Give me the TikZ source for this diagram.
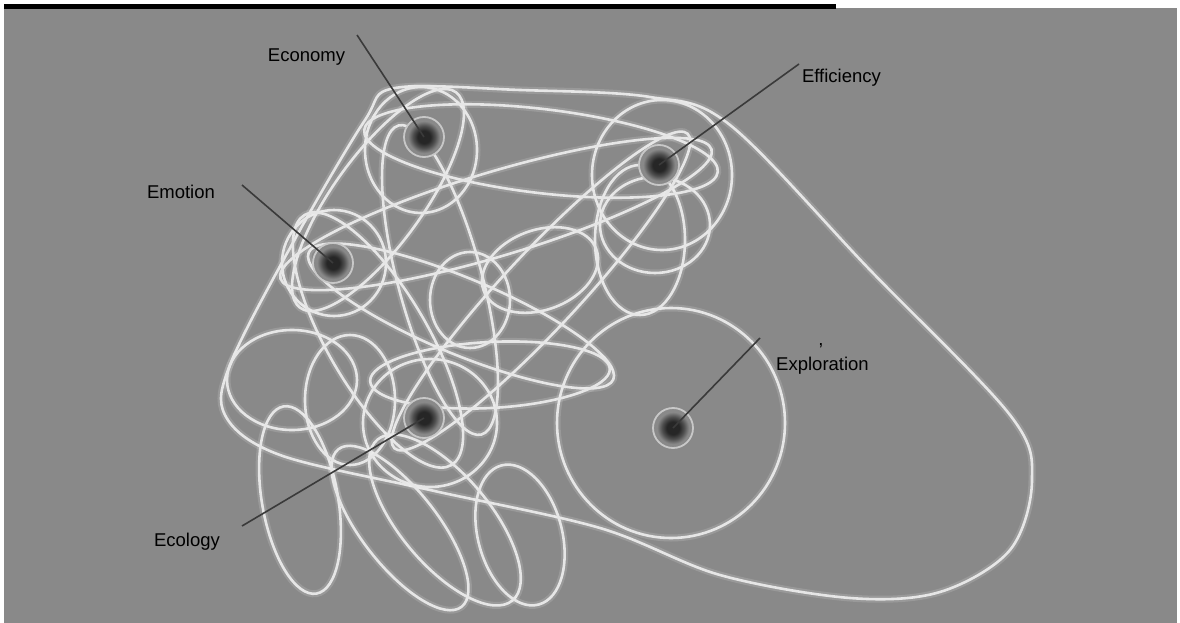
\documentclass[tikz,border=0pt]{standalone}
\usepackage{fontspec}
\setmainfont{Liberation Sans}
\definecolor{bg}{RGB}{137,137,137}
\definecolor{loopc}{RGB}{230,230,230}
\definecolor{leadc}{RGB}{58,58,58}
\definecolor{dotc}{RGB}{38,38,38}
\definecolor{dotm}{RGB}{80,80,80}
\definecolor{ringc}{RGB}{200,200,200}
\pgfdeclareradialshading{dotshade}{\pgfpoint{0bp}{0bp}}{color(0bp)=(dotc); color(8bp)=(dotc); color(14bp)=(dotm); color(20bp)=(bg); color(25bp)=(bg); color(50bp)=(bg)}
\tikzset{
  loopline/.style={draw=loopc, line width=2.6},
  halo/.style={draw=white, opacity=.14, line width=7},
  dot/.style={circle, minimum size=40, inner sep=0, shading=dotshade, draw=ringc, line width=1.8},
  lbl/.style={font=\fontsize{18.5}{22}\selectfont, text=black, inner sep=0, anchor=base},
  leader/.style={draw=leadc, line width=1.6},
}
\newcommand\lp[5]{%
  \draw[halo, rotate around={#5:(#1,#2)}] (#1,#2) ellipse [x radius=#3, y radius=#4];
  \draw[loopline, rotate around={#5:(#1,#2)}] (#1,#2) ellipse [x radius=#3, y radius=#4];
}
\begin{document}
\begin{tikzpicture}[x=1pt,y=-1pt]
\useasboundingbox (0,0) rectangle (1180,623);
\fill[white] (0,0) rectangle (1180,623);
\fill[bg] (4,8) rectangle (1177,623);
\fill[black] (4,4) rectangle (836,9);

% big outer loop
\draw[halo] plot[smooth cycle, tension=0.55] coordinates {(395,88) (520,90) (650,97) (730,125) (870,270) (1010,415) (1032,480) (1010,550) (940,592) (850,598) (720,575) (600,528) (430,490) (280,455) (225,415) (232,360) (300,230) (365,120)};
\draw[loopline] plot[smooth cycle, tension=0.55] coordinates {(395,88) (520,90) (650,97) (730,125) (870,270) (1010,415) (1032,480) (1010,550) (940,592) (850,598) (720,575) (600,528) (430,490) (280,455) (225,415) (232,360) (300,230) (365,120)};

% circles around the dots
\lp{421}{150}{56}{63}{0}
\lp{662}{175}{70}{75}{0}
\lp{334}{263}{52}{53}{0}
\lp{430}{423}{67}{64}{0}
\lp{671}{423}{114}{115}{0}
\lp{655}{225}{55}{48}{0}
\lp{640}{240}{45}{75}{0}
% loops joining pairs
\lp{378}{200}{133}{45}{54.2}
\lp{378}{340}{145}{50}{-59.6}
\lp{541}{151}{178}{42}{-6.8}
\lp{496}{214}{225}{42}{16.7}
\lp{541}{291}{215}{38}{47}
\lp{461}{316}{165}{38}{-22.6}
\lp{490}{375}{120}{33}{3}
\lp{440}{280}{160}{42}{-75}
% tangle at lower left
\lp{292}{380}{65}{50}{0}
\lp{300}{500}{38}{95}{10}
\lp{400}{528}{100}{38}{-52}
\lp{445}{520}{105}{45}{-50}
\lp{520}{535}{42}{72}{15}
\lp{350}{400}{45}{65}{0}
\lp{470}{300}{40}{48}{0}
\lp{540}{270}{60}{40}{20}

% dots
\node[dot] (eco) at (424,137) {};
\node[dot] (eff) at (659,165) {};
\node[dot] (emo) at (333,263) {};
\node[dot] (ecl) at (424,418) {};
\node[dot] (exp) at (673,428) {};

% leader ends
\coordinate (ecoE) at (357,35);
\coordinate (effE) at (799,64);
\coordinate (emoE) at (242,185);
\coordinate (eclE) at (242,526);
\coordinate (expE) at (760,338);
\draw[leader] (ecoE) -- (eco.center);
\draw[leader] (effE) -- (eff.center);
\draw[leader] (emoE) -- (emo.center);
\draw[leader] (eclE) -- (ecl.center);
\draw[leader] (expE) -- (exp.center);

% labels
\node[lbl] (tEco) at (306.5,62) {Economy};
\node[lbl] (tEff) at (841.5,83) {Efficiency};
\node[lbl] (tEmo) at (181,198) {Emotion};
\node[lbl] (tEcl) at (187,546) {Ecology};
\node[lbl] (tExp) at (822.5,370) {Exploration};
\node[lbl] (tCom) at (821,345) {,};
\end{tikzpicture}
\end{document}
